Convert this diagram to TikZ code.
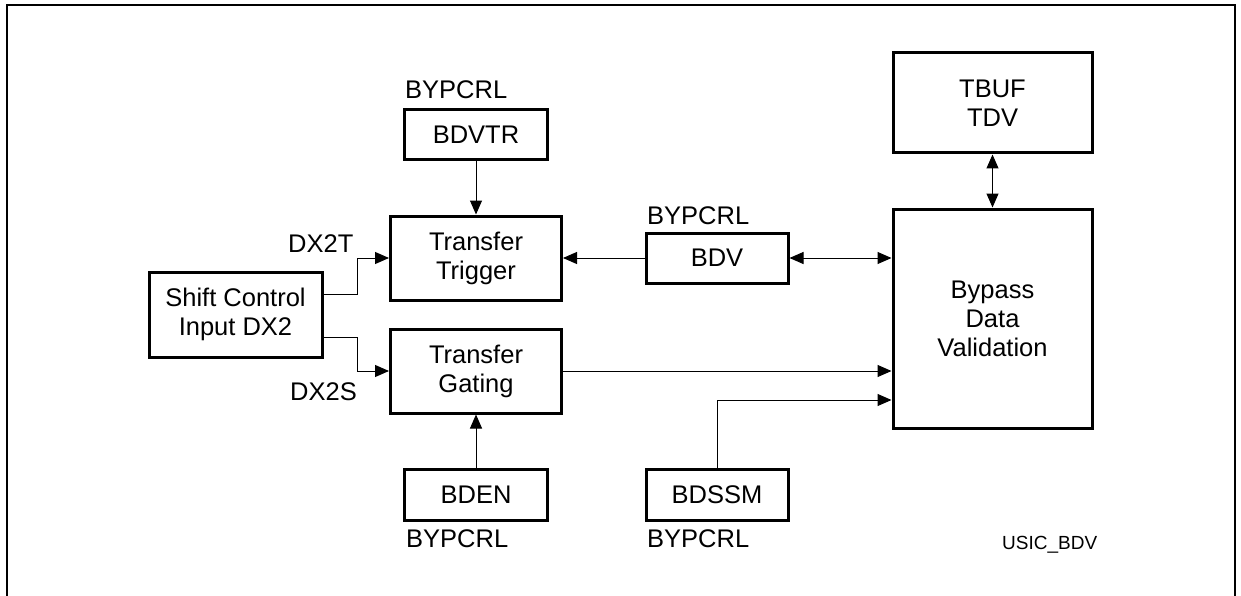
\documentclass[tikz,border=0pt]{standalone}
\usepackage{fontspec}
\setmainfont{Liberation Sans}
\usetikzlibrary{arrows.meta}
\begin{document}
\begin{tikzpicture}[x=1pt,y=-1pt,
  font=\fontsize{25.5}{29}\selectfont,
  blk/.style={draw=black, line width=3pt, align=center, inner sep=0pt, fill=white},
  lbl/.style={inner sep=0pt, anchor=base west},
  conn/.style={line width=1pt, -{Triangle[length=14pt,width=12pt]}},
  biconn/.style={line width=1pt, {Triangle[length=14pt,width=12pt]}-{Triangle[length=14pt,width=12pt]}}]
\useasboundingbox (0,0) rectangle (1241,596);
\clip (0,0) rectangle (1241,596);
\draw[line width=2.2pt] (7,5) rectangle (1235,610);

\node[blk, minimum width=143pt, minimum height=50pt] (bdvtr) at (476,135) {BDVTR};
\node[blk, minimum width=171pt, minimum height=84pt] (trig) at (476,258) {Transfer\\Trigger};
\node[blk, minimum width=171pt, minimum height=84pt] (gate) at (476,371) {Transfer\\Gating};
\node[blk, minimum width=173pt, minimum height=85pt] (shift) at (235.5,314.5) {Shift Control\\Input DX2};
\node[blk, minimum width=142pt, minimum height=50pt] (bdv) at (717,258) {BDV};
\node[blk, minimum width=199pt, minimum height=100pt] (tbuf) at (992.5,103) {TBUF\\TDV};
\node[blk, minimum width=199pt, minimum height=219pt] (bypass) at (992.5,318.5) {Bypass\\Data\\Validation};
\node[blk, minimum width=143pt, minimum height=51pt] (bden) at (476,494.5) {BDEN};
\node[blk, minimum width=142pt, minimum height=51pt] (bdssm) at (717,494.5) {BDSSM};

\node[lbl] (l1) at (405,99) {BYPCRL};
\node[lbl] (l2) at (647,224) {BYPCRL};
\node[lbl] (l3) at (406,547) {BYPCRL};
\node[lbl] (l4) at (647,547) {BYPCRL};
\node[lbl] (dxt) at (288,252) {DX2T};
\node[lbl] (dxs) at (290,400) {DX2S};
\node[lbl, font=\fontsize{19}{22}\selectfont] (usic) at (1002,549) {USIC\_BDV};

\draw[conn] ([yshift=20.5pt]shift.east) -- ++(34,0) |- (trig.west);
\draw[conn] ([yshift=-22.5pt]shift.east) -- ++(34,0) |- (gate.west);
\draw[conn] (bdvtr.south) -- (trig.north);
\draw[conn] (bdv.west) -- (trig.east);
\draw[biconn] (bdv.east) -- (bdv.east -| bypass.west);
\draw[biconn] (tbuf.south) -- (bypass.north);
\draw[conn] (gate.east) -- (gate.east -| bypass.west);
\coordinate (bin) at ([yshift=-81.5pt]bypass.west);
\draw[conn] (bdssm.north) |- (bin);
\draw[conn] (bden.north) -- (gate.south);
\end{tikzpicture}
\end{document}
